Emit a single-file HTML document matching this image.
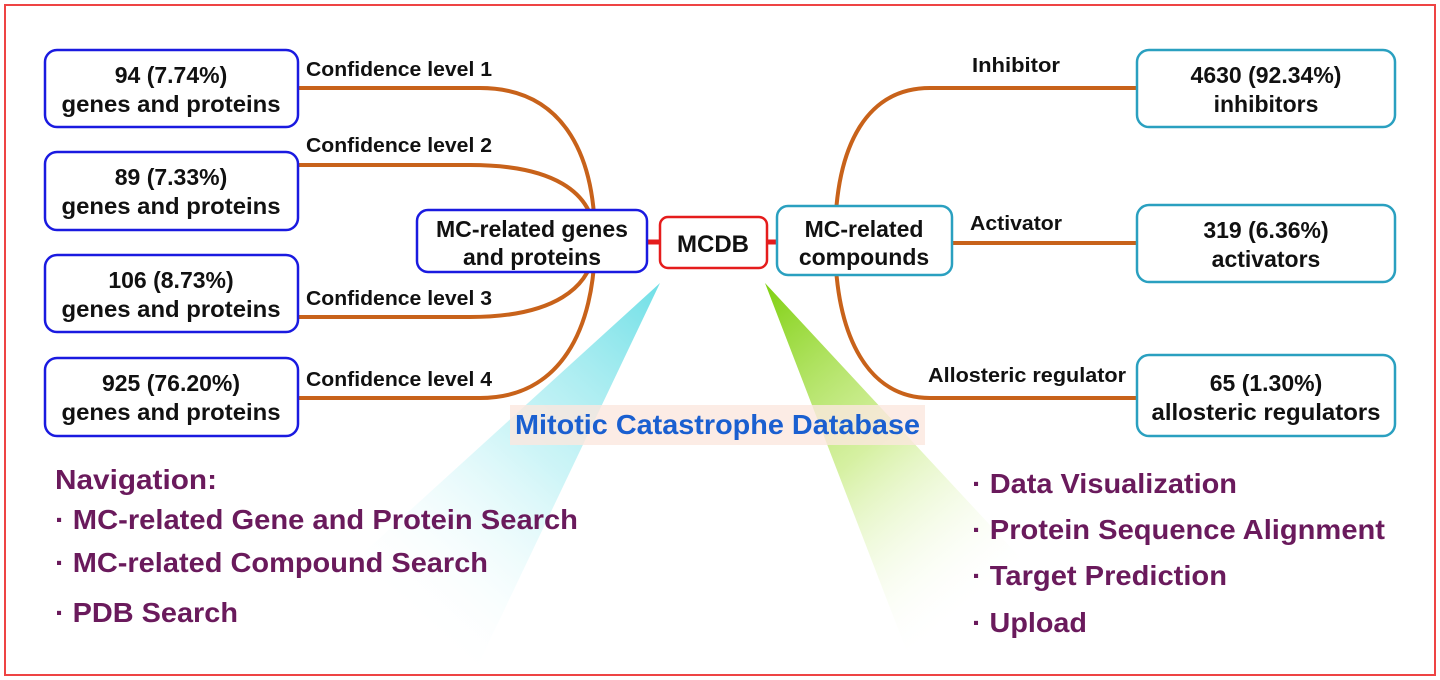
<!DOCTYPE html>
<html><head><meta charset="utf-8"><style>
html,body{margin:0;padding:0;background:#fff;}
svg{display:block;}
text{font-family:"Liberation Sans",Arial,sans-serif;font-weight:bold;}
</style></head><body>
<svg width="1440" height="680" viewBox="0 0 1440 680" xmlns="http://www.w3.org/2000/svg">
<defs>
<linearGradient id="cy" x1="660" y1="283" x2="380" y2="600" gradientUnits="userSpaceOnUse">
<stop offset="0" stop-color="#6fdfe6" stop-opacity="1"/>
<stop offset="0.5" stop-color="#aeeef2" stop-opacity="0.6"/>
<stop offset="1" stop-color="#ffffff" stop-opacity="0"/>
</linearGradient>
<linearGradient id="gr" x1="765" y1="283" x2="1010" y2="580" gradientUnits="userSpaceOnUse">
<stop offset="0" stop-color="#7fd010" stop-opacity="1"/>
<stop offset="0.5" stop-color="#c4ea7a" stop-opacity="0.7"/>
<stop offset="1" stop-color="#ffffff" stop-opacity="0"/>
</linearGradient>
</defs>
<rect x="0" y="0" width="1440" height="680" fill="#fff"/>
<rect x="5" y="5" width="1430" height="670" fill="none" stroke="#ee4444" stroke-width="2"/>
<polygon points="660,283 478,665 240,665" fill="url(#cy)"/>
<polygon points="765,283 912,665 1120,665" fill="url(#gr)"/>
<rect x="510" y="405" width="415" height="40" fill="#fbe7df" opacity="0.8"/>
<g fill="none" stroke="#c8621a" stroke-width="4">
<path d="M298,88 H480 C560,88 595,150 595,240"/>
<path d="M298,165 H470 C550,165 595,190 595,240"/>
<path d="M298,317 H470 C550,317 595,290 595,240"/>
<path d="M298,398 H480 C560,398 595,330 595,240"/>
<path d="M1137,88 H930 C870,88 835,140 835,240"/>
<path d="M952,243 H1137"/>
<path d="M1137,398 H930 C870,398 835,340 835,240"/>
</g>
<g stroke="#e51c1c" stroke-width="5">
<line x1="647" y1="242" x2="660" y2="242"/>
<line x1="767" y1="242" x2="777" y2="242"/>
</g>
<g fill="#fff" stroke="#1a1ae0" stroke-width="2.5">
<rect x="45" y="50" width="253" height="77" rx="12"/>
<rect x="45" y="152" width="253" height="78" rx="12"/>
<rect x="45" y="255" width="253" height="77" rx="12"/>
<rect x="45" y="358" width="253" height="78" rx="12"/>
<rect x="417" y="210" width="230" height="62" rx="11"/>
</g>
<rect x="660" y="217" width="107" height="51" rx="8" fill="#fff" stroke="#e51c1c" stroke-width="2.5"/>
<g fill="#fff" stroke="#2aa0c0" stroke-width="2.5">
<rect x="777" y="206" width="175" height="69" rx="11"/>
<rect x="1137" y="50" width="258" height="77" rx="12"/>
<rect x="1137" y="205" width="258" height="77" rx="12"/>
<rect x="1137" y="355" width="258" height="81" rx="12"/>
</g>
<g fill="#111" font-size="23" text-anchor="middle">
<text x="171" y="83">94 (7.74%)</text><text x="171" y="112" textLength="219" lengthAdjust="spacingAndGlyphs">genes and proteins</text>
<text x="171" y="185">89 (7.33%)</text><text x="171" y="214" textLength="219" lengthAdjust="spacingAndGlyphs">genes and proteins</text>
<text x="171" y="288">106 (8.73%)</text><text x="171" y="317" textLength="219" lengthAdjust="spacingAndGlyphs">genes and proteins</text>
<text x="171" y="391">925 (76.20%)</text><text x="171" y="420" textLength="219" lengthAdjust="spacingAndGlyphs">genes and proteins</text>
<text x="532" y="237" textLength="192" lengthAdjust="spacingAndGlyphs">MC-related genes</text><text x="532" y="265">and proteins</text>
<text x="713" y="252" font-size="24">MCDB</text>
<text x="864" y="237">MC-related</text><text x="864" y="265">compounds</text>
<text x="1266" y="83">4630 (92.34%)</text><text x="1266" y="112">inhibitors</text>
<text x="1266" y="238">319 (6.36%)</text><text x="1266" y="267">activators</text>
<text x="1266" y="391">65 (1.30%)</text><text x="1266" y="420" textLength="229" lengthAdjust="spacingAndGlyphs">allosteric regulators</text>
</g>
<g fill="#111" font-size="20">
<text x="306" y="76" textLength="186" lengthAdjust="spacingAndGlyphs">Confidence level 1</text>
<text x="306" y="152" textLength="186" lengthAdjust="spacingAndGlyphs">Confidence level 2</text>
<text x="306" y="305" textLength="186" lengthAdjust="spacingAndGlyphs">Confidence level 3</text>
<text x="306" y="386" textLength="186" lengthAdjust="spacingAndGlyphs">Confidence level 4</text>
<text x="972" y="72" textLength="88" lengthAdjust="spacingAndGlyphs">Inhibitor</text>
<text x="970" y="230" textLength="92" lengthAdjust="spacingAndGlyphs">Activator</text>
<text x="928" y="382" textLength="198" lengthAdjust="spacingAndGlyphs">Allosteric regulator</text>
</g>
<text x="515" y="434" fill="#1a5fd0" font-size="28" textLength="405" lengthAdjust="spacingAndGlyphs">Mitotic Catastrophe Database</text>
<g fill="#6a1a5c" font-size="28">
<text x="55" y="489" textLength="162" lengthAdjust="spacingAndGlyphs">Navigation:</text>
<text x="55" y="529" textLength="523" lengthAdjust="spacingAndGlyphs">· MC-related Gene and Protein Search</text>
<text x="55" y="572" textLength="433" lengthAdjust="spacingAndGlyphs">· MC-related Compound Search</text>
<text x="55" y="622" textLength="183" lengthAdjust="spacingAndGlyphs">· PDB Search</text>
<text x="972" y="493" textLength="265" lengthAdjust="spacingAndGlyphs">· Data Visualization</text>
<text x="972" y="539" textLength="413" lengthAdjust="spacingAndGlyphs">· Protein Sequence Alignment</text>
<text x="972" y="585" textLength="255" lengthAdjust="spacingAndGlyphs">· Target Prediction</text>
<text x="972" y="632" textLength="115" lengthAdjust="spacingAndGlyphs">· Upload</text>
</g>
</svg>
</body></html>
